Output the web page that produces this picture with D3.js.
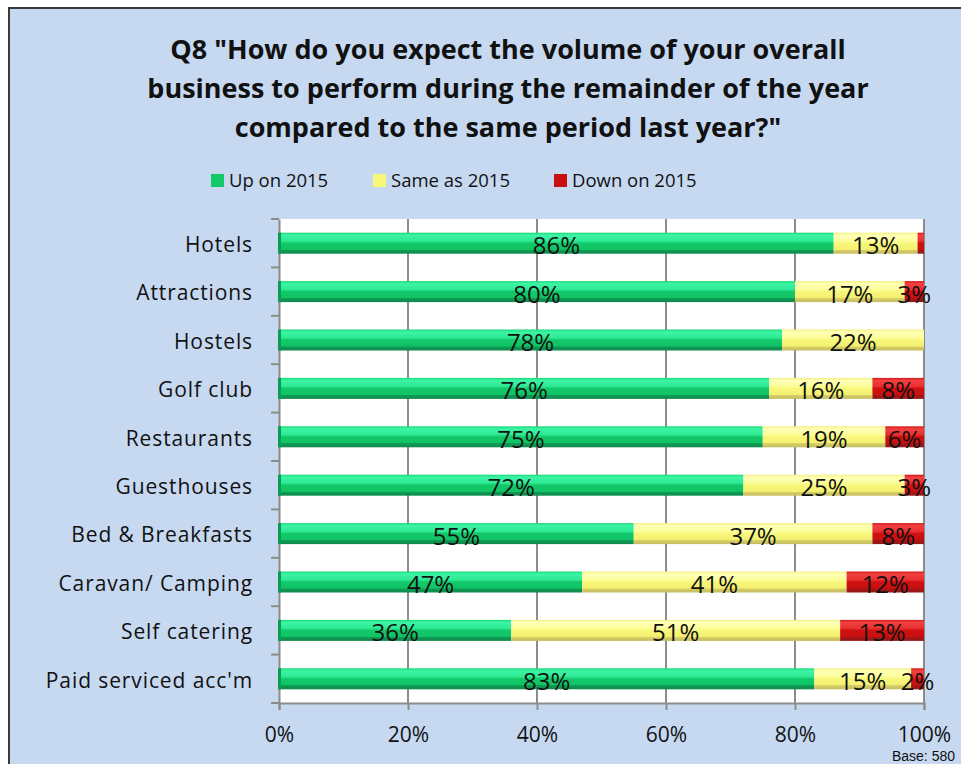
<!DOCTYPE html>
<html><head><meta charset="utf-8">
<script src="https://cdn.jsdelivr.net/npm/d3@7"></script>
<style>body{margin:0;background:#fff;}svg{display:block;}</style>
</head><body>
<svg id="c" width="961" height="764"></svg>
<script>
const categories = ["Hotels","Attractions","Hostels","Golf club","Restaurants","Guesthouses","Bed & Breakfasts","Caravan/ Camping","Self catering","Paid serviced acc'm"];
const upOn2015   = [86,80,78,76,75,72,55,47,36,83];
const sameAs2015 = [13,17,22,16,19,25,37,41,51,15];
const downOn2015 = [1,3,0,8,6,3,8,12,13,2];
const seriesNames = ["Up on 2015","Same as 2015","Down on 2015"];
const xTicks = [0,20,40,60,80,100];
const titleLines = ['Q8 "How do you expect the volume of your overall','business to perform during the remainder of the year','compared to the same period last year?"'];

const svg = d3.select("#c");
const font = "'Open Sans', Lato, sans-serif";
svg.append("rect").attr("x",9).attr("y",8).attr("width",970).attr("height",780)
  .attr("fill","#c6d9f1").attr("stroke","#3a3a3a").attr("stroke-width",2);

const defs = svg.append("defs");
const grads = [
  {id:"g0", stops:[["0","#19d877"],["0.12","#3df5a5"],["0.4","#2ee894"],["0.5","#12c869"],["0.8","#10c465"],["0.82","#0f9c55"],["1","#0f8a4c"]]},
  {id:"g1", stops:[["0","#f4f07a"],["0.12","#ffffb8"],["0.4","#fdfd9a"],["0.5","#f7f77a"],["0.8","#f4f070"],["0.82","#d8d068"],["1","#c4bc60"]]},
  {id:"g2", stops:[["0","#d01818"],["0.12","#f24040"],["0.4","#e83030"],["0.5","#d01010"],["0.8","#c81010"],["0.82","#a81414"],["1","#961818"]]}
];
grads.forEach(g=>{
  const lg = defs.append("linearGradient").attr("id",g.id).attr("x1",0).attr("y1",0).attr("x2",0).attr("y2",1);
  g.stops.forEach(s=>lg.append("stop").attr("offset",s[0]).attr("stop-color",s[1]));
});
const fills = ["url(#g0)","url(#g1)","url(#g2)"];
const legendColors = ["#12c869","#f7f77a","#c81010"];

// title
svg.append("text").attr("x",508).attr("y",59).attr("text-anchor","middle")
  .attr("font-family",font).attr("font-weight","bold").attr("font-size",27).attr("fill","#111")
  .selectAll("tspan").data(titleLines).join("tspan")
  .attr("x",508).attr("dy",(d,i)=>i?39:0).text(d=>d);

const m = {l:279, r:924, t:219, b:703};
const x = d3.scaleLinear().domain([0,100]).range([m.l,m.r]);
const y = d3.scaleBand().domain(categories).range([m.t,m.b]).paddingInner(0.56).paddingOuter(0.28);

svg.append("rect").attr("x",m.l).attr("y",m.t).attr("width",m.r-m.l).attr("height",m.b-m.t).attr("fill","#fff");

// grid
svg.append("g").selectAll("line").data(xTicks.slice(1)).join("line")
  .attr("x1",d=>x(d)).attr("x2",d=>x(d)).attr("y1",m.t).attr("y2",m.b)
  .attr("stroke","#8c8c8c").attr("stroke-width",2);

// x axis
const xa = svg.append("g").attr("transform",`translate(0,${m.b})`)
  .call(d3.axisBottom(x).tickValues(xTicks).tickFormat(d=>d+"%").tickSize(7).tickPadding(17));
xa.select(".domain").attr("stroke","#8c8c8c").attr("stroke-width",2);
xa.selectAll(".tick line").attr("stroke","#8c8c8c").attr("stroke-width",2);
xa.selectAll("text").attr("font-family",font).attr("font-size",21).attr("fill","#111");

// y axis
const ya = svg.append("g").attr("transform",`translate(${m.l},0)`)
  .call(d3.axisLeft(y).tickSize(0).tickPadding(26));
ya.select(".domain").attr("stroke","#8c8c8c").attr("stroke-width",2);
ya.selectAll("text").attr("font-family",font).attr("font-size",21).attr("letter-spacing",0.9)
  .attr("fill","#111").attr("dy","0.42em");
// boundary ticks
const bounds = d3.range(categories.length+1).map(i=>m.t + i*(m.b-m.t)/categories.length);
svg.append("g").selectAll("line").data(bounds).join("line")
  .attr("x1",m.l-8).attr("x2",m.l).attr("y1",d=>d).attr("y2",d=>d)
  .attr("stroke","#8c8c8c").attr("stroke-width",2);

// stack
const rows = categories.map((c,i)=>({cat:c, s0:upOn2015[i], s1:sameAs2015[i], s2:downOn2015[i]}));
const stack = d3.stack().keys(["s0","s1","s2"])(rows);
const bh = 21;
stack.forEach((layer,k)=>{
  const g = svg.append("g");
  g.selectAll("rect").data(layer.filter(d=>d[1]-d[0]>0)).join("rect")
    .attr("x",d=>x(d[0])).attr("width",d=>x(d[1])-x(d[0]))
    .attr("y",d=>y(d.data.cat)+y.bandwidth()/2-bh/2).attr("height",bh)
    .attr("fill",fills[k]);
});
// dark left edge on first segment
svg.append("g").selectAll("rect").data(stack[0]).join("rect")
  .attr("x",d=>x(d[0])-1).attr("width",3)
  .attr("y",d=>y(d.data.cat)+y.bandwidth()/2-bh/2).attr("height",bh)
  .attr("fill","#0d9a52");
// labels
stack.forEach((layer,k)=>{
  svg.append("g").selectAll("text").data(layer.filter(d=>d[1]-d[0]>=2)).join("text")
    .attr("x",d=>(x(d[0])+x(d[1]))/2).attr("y",d=>y(d.data.cat)+y.bandwidth()/2+11)
    .attr("text-anchor","middle").attr("font-family",font).attr("font-size",24).attr("fill","#111")
    .text(d=>(d[1]-d[0])+"%");
});

// legend
const lx = [211, 373, 554];
const lg = svg.append("g");
seriesNames.forEach((n,i)=>{
  lg.append("rect").attr("x",lx[i]).attr("y",174).attr("width",13).attr("height",13).attr("fill",legendColors[i]);
  lg.append("text").attr("x",lx[i]+18).attr("y",187).attr("font-family",font).attr("font-size",18.5).attr("fill","#111").text(n);
});

svg.append("text").attr("x",955).attr("y",760.5).attr("text-anchor","end")
  .attr("font-family","'Liberation Sans', Arial, sans-serif").attr("font-size",14).attr("fill","#111").text("Base: 580");
</script>
</body></html>
